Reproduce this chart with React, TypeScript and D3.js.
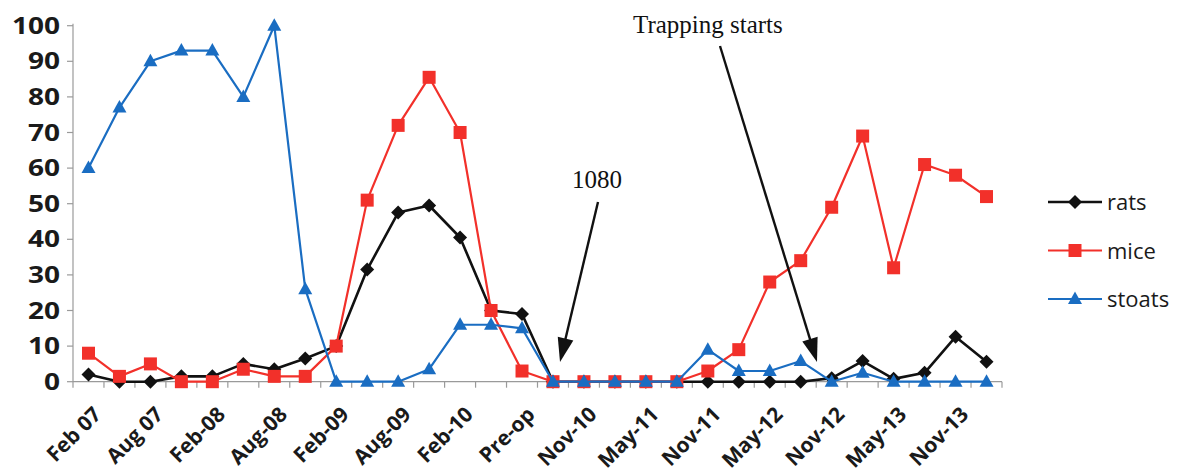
import React from "react";
import * as d3 from "d3";

const categories = [
  "Feb 07", "", "Aug 07", "", "Feb-08", "", "Aug-08", "", "Feb-09", "",
  "Aug-09", "", "Feb-10", "", "Pre-op", "", "Nov-10", "", "May-11", "",
  "Nov-11", "", "May-12", "", "Nov-12", "", "May-13", "", "Nov-13", "",
];
const rats = [2, 0, 0, 1.5, 1.5, 5, 3.5, 6.5, 10, 31.5, 47.5, 49.5, 40.5, 20, 19, 0, 0, 0, 0, 0, 0, 0, 0, 0, 1, 5.8, 0.8, 2.5, 12.6, 5.6];
const mice = [8, 1.5, 5, 0, 0, 3.5, 1.5, 1.5, 10, 51, 72, 85.5, 70, 20, 3, 0, 0, 0, 0, 0, 3, 9, 28, 34, 49, 69, 32, 61, 58, 52];
const stoats = [60, 77, 90, 93, 93, 80, 100, 26, 0, 0, 0, 3.5, 16, 16, 15, 0, 0, 0, 0, 0, 9, 3, 3, 5.8, 0, 2.5, 0, 0, 0, 0];
const yTicks = [0, 10, 20, 30, 40, 50, 60, 70, 80, 90, 100];

const W = 1180, H = 475;
const X0 = 73, X1 = 1002, Y0 = 381.7, Y1 = 25.7;

const diamond = "M0,-7L7,0L0,7L-7,0Z";
const square = "M-6.5,-6.5L6.5,-6.5L6.5,6.5L-6.5,6.5Z";
const triangle = "M0,-7.5L7,5L-7,5Z";

const series = [
  { name: "rats", values: rats, color: "#111111", marker: diamond, width: 2.6 },
  { name: "mice", values: mice, color: "#f2302a", marker: square, width: 2.2 },
  { name: "stoats", values: stoats, color: "#1a6dc2", marker: triangle, width: 2.2 },
];

function Arrow({ x1, y1, x2, y2, w }: { x1: number; y1: number; x2: number; y2: number; w: number }) {
  const dx = x2 - x1, dy = y2 - y1;
  const len = Math.hypot(dx, dy);
  const ux = dx / len, uy = dy / len;
  const hl = 24, hw = 8;
  const bx = x2 - ux * hl, by = y2 - uy * hl;
  const pts = [
    [x2, y2],
    [bx - uy * hw, by + ux * hw],
    [bx + uy * hw, by - ux * hw],
  ];
  return (
    <g>
      <line x1={x1} y1={y1} x2={bx + ux * 2} y2={by + uy * 2} stroke="#111" strokeWidth={w} />
      <polygon points={pts.map((p) => p.join(",")).join(" ")} fill="#111" />
    </g>
  );
}

export default function App() {
  const x = d3.scaleBand<number>().domain(d3.range(categories.length)).range([X0, X1]).paddingInner(0).paddingOuter(0);
  const bw = x.bandwidth();
  const cx = (i: number) => (x(i) as number) + bw / 2;
  const y = d3.scaleLinear().domain([0, 100]).range([Y0, Y1]);
  const line = d3.line<number>().x((_, i) => cx(i)).y((v) => y(v));

  const sans = "'Open Sans', Lato, sans-serif";
  const serif = "'Liberation Serif', 'Times New Roman', serif";

  return (
    <svg width={W} height={H} style={{ position: "absolute", left: 0, top: 0, background: "#fff" }}>
      {/* y axis */}
      <line x1={X0} y1={Y1 - 2} x2={X0} y2={Y0} stroke="#9a9a9a" strokeWidth={1.2} />
      {yTicks.map((t) => (
        <g key={t}>
          <line x1={X0 - 6} x2={X0} y1={y(t)} y2={y(t)} stroke="#9a9a9a" strokeWidth={1.2} />
          <text
            transform={`translate(60,${y(t) + 8}) scale(1.22,1)`}
            textAnchor="end"
            fontFamily={sans}
            fontWeight={700}
            fontSize={23}
            fill="#1a1a1a"
          >
            {t}
          </text>
        </g>
      ))}
      {/* x axis */}
      <line x1={X0} y1={Y0} x2={X1} y2={Y0} stroke="#9a9a9a" strokeWidth={1.2} />
      {d3.range(categories.length + 1).map((i) => {
        const xx = X0 + i * bw;
        return <line key={i} x1={xx} x2={xx} y1={Y0} y2={Y0 + 6} stroke="#9a9a9a" strokeWidth={1.2} />;
      })}
      {categories.map((c, i) =>
        c ? (
          <g key={i} transform={`translate(${cx(i) + 3},${Y0 + 23})`}>
            <text
              transform="rotate(-45)"
              x={0}
              y={0}
              dy="0.75em"
              textAnchor="end"
              fontFamily={sans}
              fontWeight={700}
              fontSize={21}
              fill="#1a1a1a"
            >
              {c}
            </text>
          </g>
        ) : null
      )}
      {/* series */}
      {series.map((s) => (
        <g key={s.name}>
          <path d={line(s.values) || ""} fill="none" stroke={s.color} strokeWidth={s.width} strokeLinejoin="round" />
          {s.values.map((v, i) => (
            <path key={i} d={s.marker} transform={`translate(${cx(i)},${y(v)})`} fill={s.color} />
          ))}
        </g>
      ))}
      {/* annotations */}
      <text x={633} y={33} fontFamily={serif} fontSize={25} fill="#111">Trapping starts</text>
      <Arrow x1={720} y1={46} x2={817} y2={362} w={2.4} />
      <text x={572} y={188} fontFamily={serif} fontSize={25} fill="#111">1080</text>
      <Arrow x1={598} y1={202} x2={560} y2={362} w={2.4} />
      {/* legend */}
      {series.map((s, k) => {
        const ly = 202 + k * 48.5;
        return (
          <g key={s.name}>
            <line x1={1048} x2={1102} y1={ly} y2={ly} stroke={s.color} strokeWidth={s.width} />
            <path d={s.marker} transform={`translate(1075,${ly})`} fill={s.color} />
            <text x={1107} y={ly + 8} fontFamily={sans} fontSize={22} fill="#1a1a1a">
              {s.name}
            </text>
          </g>
        );
      })}
    </svg>
  );
}
